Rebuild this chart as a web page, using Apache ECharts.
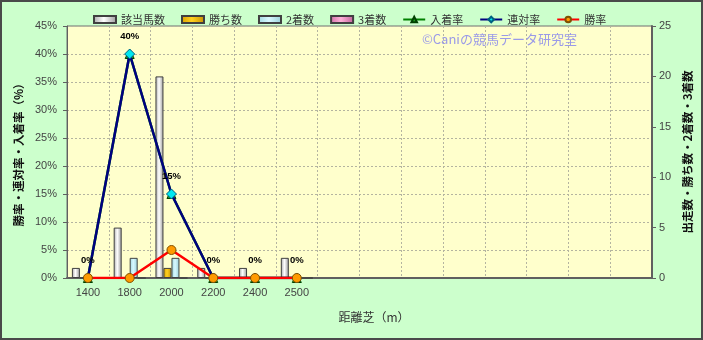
<!DOCTYPE html>
<html><head><meta charset="utf-8">
<script src="https://cdn.jsdelivr.net/npm/echarts@6/dist/echarts.min.js"></script>
<style>html,body{margin:0;padding:0;background:#ccffcc}#c{width:703px;height:340px}</style>
</head><body><div id="c"></div>
<script>
var categories = ['1400','1800','2000','2200','2400','2500','','','','','','','',''];
var horses   = [1, 5, 20, 1, 1, 2];
var wins     = [0, 0, 1, 0, 0, 0];
var seconds  = [0, 2, 2, 0, 0, 0];
var thirds   = [0, 0, 0, 0, 0, 0];
var placeRate = [0, 40, 15, 0, 0, 0];
var rentaiRate = [0, 40, 15, 0, 0, 0];
var winRate  = [0, 0, 5, 0, 0, 0];
var leftTicks = [0, 45, 5];
var rightTicks = [0, 25, 5];

var jp = '"Noto Sans CJK JP", sans-serif';
var num = '"Liberation Sans", Arial, sans-serif';
function grad(a, b, c) {
  return new echarts.graphic.LinearGradient(0, 0, 1, 0, [
    {offset: 0, color: a}, {offset: 0.45, color: b}, {offset: 1, color: c}]);
}
function barSeries(name, data, color) {
  return {
    name: name, type: 'bar', yAxisIndex: 1, data: data, barWidth: 8, barGap: '0%',
    itemStyle: {color: color, borderColor: '#404040', borderWidth: 1}
  };
}
function lineSeries(name, data, lineColor, symbol, fill, border, size, z) {
  return {
    name: name, type: 'line', yAxisIndex: 0, data: data, z: z,
    symbol: symbol, symbolSize: size,
    lineStyle: {color: lineColor, width: 2.5},
    itemStyle: {color: fill, borderColor: border, borderWidth: 1}
  };
}
var chart = echarts.init(document.getElementById('c'), null, {renderer: 'canvas'});
var rentai = lineSeries('連対率', rentaiRate, '#000080', 'diamond', '#00e8f0', '#006080', 10, 4);
rentai.label = {show: true, position: 'top', distance: 7, formatter: '{c}%',
  fontSize: 9.5, fontWeight: 'bold', color: '#000', fontFamily: num};
chart.setOption({
  animation: false,
  backgroundColor: '#ccffcc',
  textStyle: {fontFamily: jp},
  graphic: [
    {type: 'rect', shape: {x: 1, y: 1, width: 701, height: 338}, style: {fill: 'none', stroke: '#4a4a4a', lineWidth: 2}, z: 100},
    {type: 'text', left: 422, top: 33, z: 100,
     style: {text: '©Caniの競馬データ研究室', fill: '#9a9ae8', font: '13px "Noto Sans CJK JP"'}}
  ],
  legend: {
    left: 88, top: 9, itemWidth: 22, itemHeight: 7, itemGap: 16,
    textStyle: {fontSize: 11, color: '#333', fontFamily: jp},
    data: [
      {name: '該当馬数', icon: 'rect'}, {name: '勝ち数', icon: 'rect'},
      {name: '2着数', icon: 'rect'}, {name: '3着数', icon: 'rect'},
      '入着率', '連対率', '勝率']
  },
  grid: {left: 67, right: 51, top: 26, bottom: 62, show: true,
    backgroundColor: '#ffffcc', borderColor: '#707070', borderWidth: 1},
  xAxis: {
    type: 'category', data: categories, boundaryGap: true,
    name: '距離芝（m）', nameLocation: 'middle', nameGap: 33,
    nameTextStyle: {fontSize: 12, color: '#333', fontFamily: jp, padding: [0, 0, 0, 29]},
    axisLine: {lineStyle: {color: '#606060', width: 2}},
    axisTick: {show: false},
    axisLabel: {interval: 0, fontSize: 11, color: '#444', fontFamily: num, margin: 9},
    splitLine: {show: true, interval: 0, lineStyle: {color: '#b4b4a0', type: [2, 2], width: 1}}
  },
  yAxis: [
    {type: 'value', min: leftTicks[0], max: leftTicks[1], interval: leftTicks[2],
     name: '勝率・連対率・入着率（%）', nameLocation: 'middle', nameRotate: 90, nameGap: 40,
     nameTextStyle: {fontSize: 11.5, fontWeight: 'bold', color: '#111', fontFamily: jp},
     axisLine: {show: true, lineStyle: {color: '#606060', width: 1}},
     axisTick: {show: true, length: 4, lineStyle: {color: '#606060'}},
     axisLabel: {formatter: '{value}%', fontSize: 11, color: '#444', fontFamily: num, margin: 10},
     splitLine: {show: true, lineStyle: {color: '#b4b4a0', type: [2, 2], width: 1}}},
    {type: 'value', min: rightTicks[0], max: rightTicks[1], interval: rightTicks[2], position: 'right',
     name: '出走数・勝ち数・2着数・3着数', nameLocation: 'middle', nameRotate: 90, nameGap: 28,
     nameTextStyle: {fontSize: 11.5, fontWeight: 'bold', color: '#111', fontFamily: jp},
     axisLine: {show: true, lineStyle: {color: '#606060', width: 2}},
     axisTick: {show: true, length: 4, lineStyle: {color: '#606060'}},
     axisLabel: {fontSize: 11, color: '#444', fontFamily: num, margin: 7},
     splitLine: {show: false}}
  ],
  series: [
    barSeries('該当馬数', horses, grad('#a8a8a8', '#ffffff', '#9a9a9a')),
    barSeries('勝ち数', wins, grad('#d8a000', '#ffd020', '#c89000')),
    barSeries('2着数', seconds, grad('#a0d8e0', '#d8f8ff', '#98d0d8')),
    barSeries('3着数', thirds, grad('#d070a8', '#ffb0d8', '#c06098')),
    lineSeries('入着率', placeRate, '#008000', 'triangle', '#20a020', '#004000', 9, 3),
    rentai,
    lineSeries('勝率', winRate, '#ff0000', 'circle', '#ff9a00', '#805000', 9, 5)
  ]
});
</script></body></html>
